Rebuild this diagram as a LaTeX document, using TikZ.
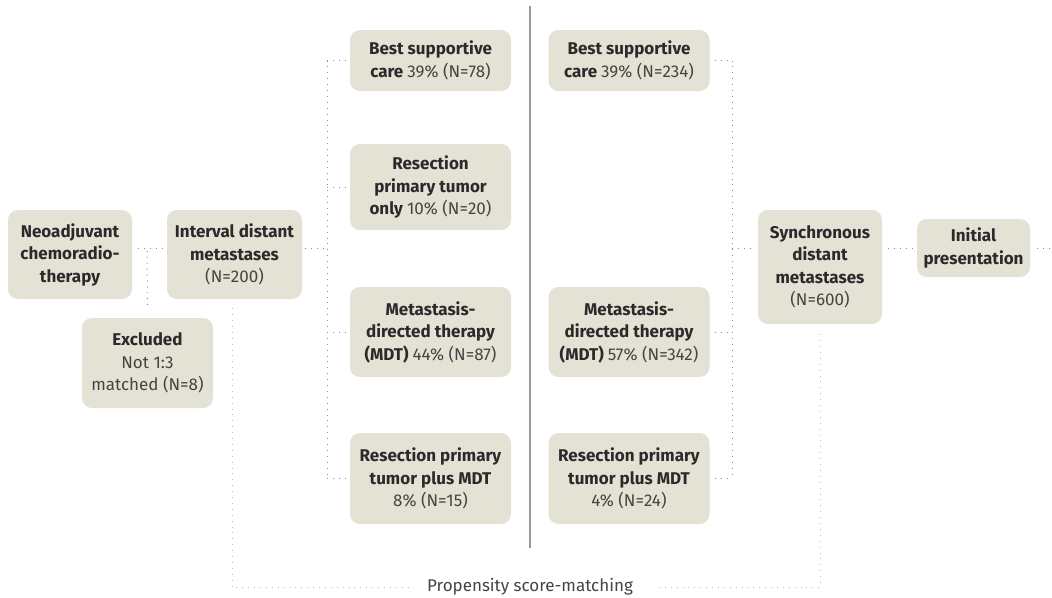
\documentclass[tikz,border=0pt]{standalone}
\usepackage{fontspec}
\setmainfont{Fira Sans}
\usetikzlibrary{calc}
\definecolor{boxfill}{HTML}{E4E2D4}
\definecolor{txt}{HTML}{2A2A2A}
\definecolor{txtr}{HTML}{444444}
\definecolor{pinkdot}{HTML}{E9A3B6}
\definecolor{greydot}{HTML}{8A8A8A}
\tikzset{
  box/.style={rectangle, rounded corners=10pt, fill=boxfill, draw=none, align=center,
    text=txt, font=\fontsize{17}{22.5}\selectfont, inner sep=2pt},
  gdot/.style={draw=greydot, line width=1pt, dash pattern=on 0.9pt off 5pt},
  pdot/.style={draw=pinkdot, line width=1pt, dash pattern=on 0.9pt off 5pt},
}
\newcommand{\rg}[1]{{\mdseries\color{txtr}#1}}
\begin{document}
\begin{tikzpicture}[x=1pt,y=-1pt]
\useasboundingbox (0,0) rectangle (1052,597);
\fill[white] (0,0) rectangle (1052,597);
% divider
\draw[gray!80, line width=1.3pt] (530,6) -- (530,548);
% nodes
\node[box, minimum width=124pt, minimum height=89pt] (neo) at (70,254.5) {\bfseries Neoadjuvant\\\bfseries chemoradio-\\\bfseries therapy};
\node[box, minimum width=135pt, minimum height=89pt] (interval) at (234.5,254.5) {\bfseries Interval distant\\\bfseries metastases\\\rg{(N=200)}};
\node[box, minimum width=131pt, minimum height=90pt] (excl) at (147.5,363) {\bfseries Excluded\\\rg{Not 1:3}\\\rg{matched (N=8)}};
\node[box, minimum width=161pt, minimum height=61pt] (bscL) at (430.5,60.5) {\bfseries Best supportive\\\bfseries care \rg{39\% (N=78)}};
\node[box, minimum width=161pt, minimum height=86pt] (resL) at (430.5,187) {\bfseries Resection\\\bfseries primary tumor\\\bfseries only \rg{10\% (N=20)}};
\node[box, minimum width=161pt, minimum height=90pt] (mdtL) at (430.5,332) {\bfseries Metastasis-\\\bfseries directed therapy\\\bfseries (MDT) \rg{44\% (N=87)}};
\node[box, minimum width=161pt, minimum height=91pt] (rpmL) at (430.5,478.5) {\bfseries Resection primary\\\bfseries tumor plus MDT\\\rg{8\% (N=15)}};
\node[box, minimum width=161pt, minimum height=61pt] (bscR) at (629,60.5) {\bfseries Best supportive\\\bfseries care \rg{39\% (N=234)}};
\node[box, minimum width=161pt, minimum height=90pt] (mdtR) at (629,332) {\bfseries Metastasis-\\\bfseries directed therapy\\\bfseries (MDT) \rg{57\% (N=342)}};
\node[box, minimum width=161pt, minimum height=91pt] (rpmR) at (629,478.5) {\bfseries Resection primary\\\bfseries tumor plus MDT\\\rg{4\% (N=24)}};
\node[box, minimum width=124pt, minimum height=114pt] (sync) at (820,267) {\bfseries Synchronous\\\bfseries distant\\\bfseries metastases\\\rg{(N=600)}};
\node[box, minimum width=113pt, minimum height=58pt] (init) at (973.5,248) {\bfseries Initial\\\bfseries presentation};
\node[text=txtr, font=\fontsize{17}{20}\selectfont, inner sep=0pt] (psm) at (530,587) {Propensity score-matching};
\coordinate (row) at (0,248);
\coordinate (bl) at (327,0);
\coordinate (br) at (732,0);
\coordinate (rend) at (1052,248);
% grey connectors
\draw[gdot] ([xshift=6pt]neo.east |- row) -- ([xshift=-2pt]interval.west |- row);
\draw[gdot] (147,251) -- ([yshift=13pt]excl.north);
\draw[gdot] ([xshift=3pt]interval.east |- row) -- (bl |- row);
\draw[gdot] (bl |- bscL) -- (bl |- rpmL);
\draw[gdot] (bl |- bscL) -- ([xshift=-5pt]bscL.west);
\draw[gdot] (bl |- resL) -- ([xshift=-5pt]resL.west);
\draw[gdot] (bl |- mdtL) -- ([xshift=-5pt]mdtL.west);
\draw[gdot] (bl |- rpmL) -- ([xshift=-5pt]rpmL.west);
\draw[gdot] (br |- bscR) -- (br |- rpmR);
\draw[gdot] ([xshift=5pt]bscR.east) -- (br |- bscR);
\draw[gdot] ([xshift=5pt]mdtR.east) -- (br |- mdtR);
\draw[gdot] ([xshift=5pt]rpmR.east) -- (br |- rpmR);
\draw[gdot] (br |- row) -- ([xshift=-4pt]sync.west |- row);
\draw[gdot] ([xshift=6pt]sync.east |- row) -- ([xshift=-4pt]init.west);
\draw[gdot] ([xshift=7pt]init.east) -- (rend);
% pink propensity line
\draw[pdot] ([xshift=-2.5pt,yshift=-9pt]interval.south) -- ([xshift=-2.5pt]interval.south |- psm) -- ([xshift=-18pt]psm.west);
\draw[pdot] ([yshift=-10pt]sync.south) -- (sync.south |- psm) -- ([xshift=22pt]psm.east);
\end{tikzpicture}
\end{document}
